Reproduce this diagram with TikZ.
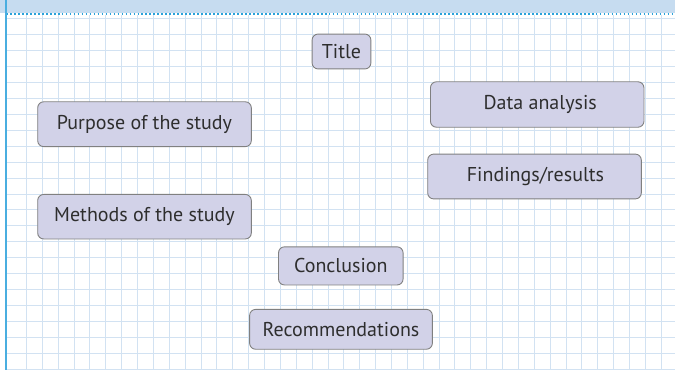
\documentclass[tikz,border=0pt]{standalone}
\usepackage{fontspec}
\setmainfont{PT Sans}
\definecolor{bandblue}{HTML}{C6DCF0}
\definecolor{dotblue}{HTML}{2AA2DA}
\definecolor{edgeblue}{HTML}{4AAEE0}
\definecolor{gridblue}{HTML}{D2E2F2}
\definecolor{boxfill}{HTML}{D2D2E8}
\definecolor{boxedge}{HTML}{808080}
\definecolor{txt}{HTML}{2E2E2E}
\newlength\refw
\begin{document}
\settowidth\refw{\fontsize{10pt}{12pt}\selectfont Recommendations}%
\pgfmathsetmacro\fsz{10*157.3/\refw}%
\begin{tikzpicture}[x=1bp,y=-1bp,
  gridline/.style={draw=gridblue,line width=1.1bp},
  topicbox/.style={draw=boxedge,fill=boxfill,line width=0.9pt,rounded corners=6pt,
    inner sep=0pt,text=txt,font=\fontsize{\fsz}{\fsz}\selectfont}]
\useasboundingbox (0,0) rectangle (675,370);
\fill[white] (0,0) rectangle (675,370);
% grid
\foreach \i in {0,...,40}
  \draw[gridline] ({round(26+15.87*\i)+0.5},15) -- ({round(26+15.87*\i)+0.5},370);
\foreach \j in {0,...,22}
  \draw[gridline] (6,{round(18.3+15.93*\j)+0.5}) -- (675,{round(18.3+15.93*\j)+0.5});
% header band
\fill[bandblue] (0,0) rectangle (675,12.5);
\draw[dotblue,line width=1.7pt,dash pattern=on 1.7pt off 2.3pt] (6,14) -- (675,14);
\draw[edgeblue,line width=1.8pt] (5.8,0) -- (5.8,370);
% boxes
\node[topicbox,minimum width=59pt,minimum height=35pt] (title) at (341.5,51.5) {Title};
\node[topicbox,minimum width=214.4pt,minimum height=45pt] (purpose) at (144.5,124.2) {Purpose of the study};
\node[topicbox,minimum width=214.4pt,minimum height=44.7pt] (methods) at (144.5,216.7) {Methods of the study};
\node[topicbox,minimum width=214.3pt,minimum height=45.6pt] (data) at (537.2,104.5) {\hspace*{6pt}Data analysis};
\node[topicbox,minimum width=214.4pt,minimum height=45pt] (findings) at (534.5,176.5) {\hspace*{2pt}Findings/results};
\node[topicbox,minimum width=125pt,minimum height=38.3pt] (conclusion) at (340.8,265.9) {Conclusion};
\node[topicbox,minimum width=183.4pt,minimum height=40pt] (recs) at (341,329.3) {Recommendations};
\end{tikzpicture}
\end{document}
